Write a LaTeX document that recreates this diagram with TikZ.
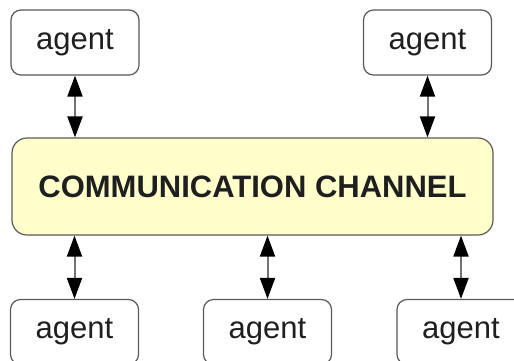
\documentclass[tikz,border=0pt]{standalone}
\usepackage{fontspec}
\setmainfont{Liberation Sans}
\usetikzlibrary{positioning,arrows.meta}
\definecolor{chanfill}{RGB}{255,255,204}

\begin{document}
\begin{tikzpicture}[x=1pt, y=-1pt,
  every node/.style = {shape=rectangle, rounded corners=10pt,
    draw=black!65, line width=1.2pt, align=center, text=black!88},
  agent/.style = {minimum width=128pt, minimum height=65pt,
    fill=white, font=\fontsize{31}{33}\selectfont},
  channel/.style = {minimum width=481pt, minimum height=97pt,
    rounded corners=15pt, fill=chanfill,
    font=\bfseries\fontsize{31}{33}\selectfont},
  link/.style = {draw=black!55, line width=2pt,
    {Triangle[black,length=21pt,width=15pt]}-{Triangle[black,length=21pt,width=15pt]}}]
  \useasboundingbox (0,0) rectangle (514,360);
  \clip (0,0) rectangle (514,360);
  \node[channel] (chan) at (252.5,186.5) {COMMUNICATION CHANNEL};
  % agents above the channel
  \node[agent] (top1) at (75,42.5) {agent};
  \node[agent] (top2) at (427.5,42.5) {agent};
  % agents below the channel
  \node[agent] (bot1) at (74.5,332) {agent};
  \node[agent] (bot2) at (267.5,332) {agent};
  \node[agent] (bot3) at (461,332) {agent};
  \draw[link] (top1.south) -- (top1.south |- chan.north);
  \draw[link] (top2.south) -- (top2.south |- chan.north);
  \draw[link] (bot1.north |- chan.south) -- (bot1.north);
  \draw[link] (bot2.north |- chan.south) -- (bot2.north);
  \draw[link] (bot3.north |- chan.south) -- (bot3.north);
\end{tikzpicture}
\end{document}
